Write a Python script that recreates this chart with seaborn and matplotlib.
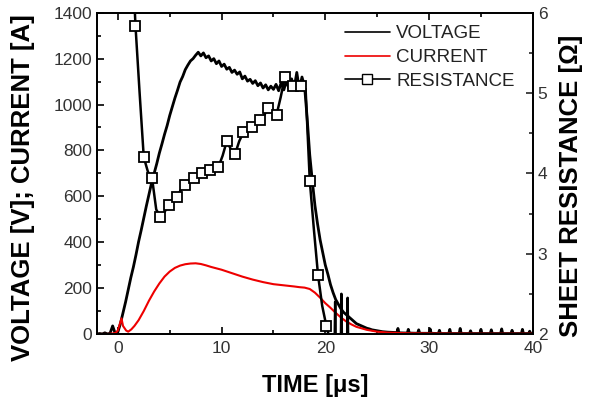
import numpy as np
import pandas as pd
import matplotlib
matplotlib.use("Agg")
import matplotlib.pyplot as plt
import seaborn as sns
from matplotlib.lines import Line2D
from matplotlib.ticker import MultipleLocator

# voltage trace [V], sampled every 0.25 us from -2 to 26 us
volt_t0, volt_dt = -2.0, 0.25
voltage = [
    0, 2, 0, 5, 0, 3, 35, 2,                          # -2 .. -0.25
    8, 45, 92, 140, 192, 245, 292, 345,               # 0 .. 1.75
    402, 452, 505, 558, 608, 658, 700, 742,           # 2 .. 3.75
    788, 828, 870, 908, 952, 990, 1028, 1062,         # 4 .. 5.75
    1098, 1122, 1152, 1172, 1190, 1200, 1215, 1228,   # 6 .. 7.75
    1212, 1225, 1204, 1212, 1190, 1200, 1178, 1190,   # 8 .. 9.75
    1166, 1176, 1154, 1162, 1140, 1150, 1132, 1142,   # 10 .. 11.75
    1112, 1124, 1102, 1110, 1092, 1104, 1082, 1094,   # 12 .. 13.75
    1072, 1086, 1064, 1080, 1066, 1088, 1060, 1096,   # 14 .. 15.75
    1064, 1104, 1070, 1112, 1072, 1140, 1066, 1120,   # 16 .. 17.75
    1080, 940, 780, 665, 560, 480, 410, 355,          # 18 .. 19.75
    300, 260, 215, 180, 150, 130, 110, 95,            # 20 .. 21.75
    85, 75, 65, 55, 45, 40, 35, 30,                   # 22 .. 23.75
    25, 22, 18, 16, 14, 12, 10, 9,                    # 24 .. 25.75
    8,                                                # 26
]
volt_time = list(volt_t0 + volt_dt * np.arange(len(voltage)))

# noisy tail of the voltage after 26 us (narrow spikes)
tail_time = [26.9, 27.0, 27.1, 27.9, 28.0, 28.1, 28.9, 29.0, 29.1, 30.0, 30.1, 30.2,
             30.9, 31.0, 31.1, 31.9, 32.0, 32.1, 32.9, 33.0, 33.1, 33.9, 34.0, 34.1,
             34.9, 35.0, 35.1, 35.9, 36.0, 36.1, 36.9, 37.0, 37.1, 37.9, 38.0, 38.1,
             38.9, 39.0, 39.1, 39.6, 39.7, 39.8, 40.0]
tail_volt = [6, 24, 5, 4, 20, 4, 3, 18, 3, 3, 22, 3,
             2, 16, 2, 2, 20, 2, 2, 24, 2, 2, 14, 2,
             2, 20, 2, 2, 18, 2, 2, 22, 2, 2, 16, 2,
             2, 20, 2, 2, 12, 2, 2]

# current trace [A]
curr_time = [-2, -1, -0.5, -0.2, 0.0, 0.2, 0.35, 0.5, 0.8, 1.0, 1.3, 1.6,
             2.0, 2.5, 3.0, 3.5, 4.0, 4.5, 5.0, 5.5, 6.0, 6.5, 7.0, 7.5,
             8.0, 8.5, 9.0, 10, 11, 12, 13, 14, 15, 16, 17, 17.5, 18, 18.5,
             19, 19.5, 20, 20.5, 21, 21.5, 22, 22.5, 23, 24, 25, 26, 28, 30,
             35, 40]
current = [0, 0, 2, 5, 15, 45, 68, 35, 15, 10, 20, 35,
           60, 100, 145, 185, 220, 250, 272, 288, 298, 304, 307, 308,
           305, 299, 292, 280, 265, 250, 237, 226, 217, 212, 207, 204, 202, 196,
           180, 158, 134, 114, 92, 72, 55, 42, 31, 18, 10, 6, 3, 2,
           1, 1]

# sheet resistance trace [Ohm]; markers on every other point (1.7 .. 20.1 us)
res_time = [1.3, 1.7, 2.1, 2.5, 2.9, 3.3, 3.7, 4.1, 4.5, 4.9, 5.3, 5.7,
            6.1, 6.5, 6.9, 7.3, 7.7, 8.1, 8.5, 8.9, 9.3, 9.7, 10.1, 10.5,
            10.9, 11.3, 11.7, 12.1, 12.5, 12.9, 13.3, 13.7, 14.1, 14.5, 14.9, 15.3,
            15.7, 16.1, 16.5, 16.9, 17.3, 17.7, 18.1, 18.5, 18.9, 19.3, 19.7, 20.1,
            20.5, 20.9, 20.95, 21.0, 21.5, 21.55, 21.6, 22.1, 22.15, 22.2]
resistance = [7.0, 5.84, 5.0, 4.20, 4.02, 3.94, 3.55, 3.46, 3.52, 3.60, 3.66, 3.71,
              3.80, 3.86, 3.90, 3.94, 3.98, 4.01, 4.06, 4.04, 4.12, 4.08, 4.22, 4.40,
              4.30, 4.24, 4.40, 4.51, 4.52, 4.58, 4.62, 4.66, 4.72, 4.82, 4.80, 4.73,
              4.95, 5.20, 5.05, 5.09, 5.15, 5.09, 5.05, 3.91, 3.30, 2.73, 2.35, 2.10,
              1.90, 1.90, 2.40, 1.90, 1.90, 2.50, 1.90, 1.90, 2.45, 1.90]

sns.set_style("ticks")
plt.rcParams['font.family'] = ['Liberation Sans', 'DejaVu Sans']

fig = plt.figure(figsize=(5.92, 3.99), dpi=100)
ax = fig.add_axes([0.164, 0.163, 0.736, 0.805])
ax2 = ax.twinx()

df_v = pd.DataFrame({"t": volt_time + tail_time, "v": voltage + tail_volt})
df_i = pd.DataFrame({"t": curr_time, "i": current})
df_r = pd.DataFrame({"t": res_time, "r": resistance})

sns.lineplot(data=df_v, x="t", y="v", ax=ax, color="black", lw=2.0,
             estimator=None, sort=False)
sns.lineplot(data=df_i, x="t", y="i", ax=ax, color="#ee0000", lw=1.5,
             estimator=None, sort=False)
sns.lineplot(data=df_r, x="t", y="r", ax=ax2, color="black", lw=1.8,
             estimator=None, sort=False, marker="s", markersize=6.5,
             markerfacecolor="white", markeredgecolor="black",
             markeredgewidth=1.3, markevery=slice(1, 48, 2))

ax.set_xlim(-2, 40)
ax.set_ylim(0, 1400)
ax2.set_ylim(2, 6)

ax.xaxis.set_major_locator(MultipleLocator(10))
ax.xaxis.set_minor_locator(MultipleLocator(5))
ax.yaxis.set_major_locator(MultipleLocator(200))
ax.yaxis.set_minor_locator(MultipleLocator(100))
ax2.yaxis.set_major_locator(MultipleLocator(1))
ax2.yaxis.set_minor_locator(MultipleLocator(0.5))

ax.tick_params(axis="both", which="both", direction="in", top=True, right=False,
               width=1.2, labelsize=12.5, colors="black", labelcolor="#333333")
ax.tick_params(which="major", length=5)
ax.tick_params(which="minor", length=3)
ax2.tick_params(axis="y", which="both", direction="in", width=1.2,
                labelsize=12.5, labelcolor="#333333")
ax2.tick_params(which="major", length=5)
ax2.tick_params(which="minor", length=3)
ax.tick_params(axis="x", pad=5)

for a in (ax, ax2):
    for s in a.spines.values():
        s.set_visible(True)
        s.set_linewidth(1.3)
        s.set_color("black")

ax.set_xlabel("TIME [\u03bcs]", fontsize=17, fontweight="bold", color="black")
ax.set_ylabel("VOLTAGE [V]; CURRENT [A]", fontsize=18.5, fontweight="bold",
              color="black")
ax2.set_ylabel("SHEET RESISTANCE [\u03a9]", fontsize=18.5, fontweight="bold",
               color="black")
ax.xaxis.set_label_coords(0.5, -0.16)
ax.yaxis.set_label_coords(-0.17, 0.455)
ax2.yaxis.set_label_coords(1.088, 0.462)
ax2.yaxis.label.set_va("center")
ax.yaxis.label.set_va("center")
ax.xaxis.label.set_va("center")

handles = [
    Line2D([], [], color="black", lw=1.2),
    Line2D([], [], color="#ee0000", lw=1.2),
    Line2D([], [], color="black", lw=1.2, marker="s", markersize=7,
           markerfacecolor="white", markeredgecolor="black"),
]
ax2.legend(handles, ["VOLTAGE", "CURRENT", "RESISTANCE"], loc="upper left",
           bbox_to_anchor=(0.547, 0.99), frameon=False, fontsize=13.5,
           handlelength=2.4, handletextpad=0.35, labelspacing=0.35,
           borderpad=0, labelcolor="#222222")

fig.savefig("out.png", dpi=100)
